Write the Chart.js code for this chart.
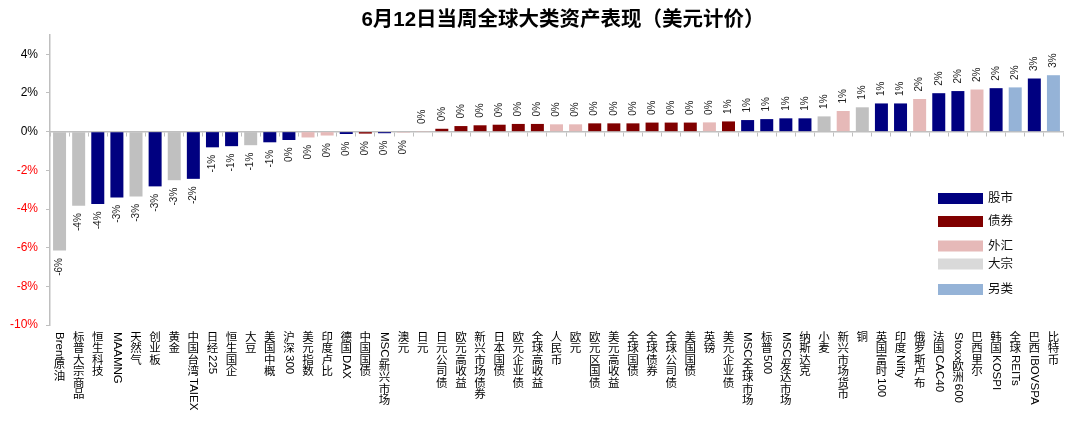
<!DOCTYPE html>
<html>
<head>
<meta charset="utf-8">
<script src="https://cdn.jsdelivr.net/npm/chart.js@4.4.1/dist/chart.umd.min.js"></script>
<style>
html,body{margin:0;padding:0;background:#fff;}
#wrap{width:1080px;height:426px;position:relative;}
</style>
</head>
<body>
<div id="wrap"><canvas id="c"></canvas></div>
<script>
const TITLE = '6月12日当周全球大类资产表现（美元计价）';
const categories = ['Brent原油','标普大宗商品','恒生科技','MAAMNG','天然气','创业板','黄金','中国台湾TAIEX','日经225','恒生国企','大豆','美国中概','沪深300','美元指数','印度卢比','德国DAX','中国国债','MSCI新兴市场','澳元','日元','日元公司债','欧元高收益','新兴市场债券','日本国债','欧元企业债','全球高收益','人民币','欧元','欧元区国债','美元高收益','全球国债','全球债券','全球公司债','美国国债','英镑','美元企业债','MSCI全球市场','标普500','MSCI发达市场','纳斯达克','小麦','新兴市场货币','铜','英国富时100','印度Nifty','俄罗斯卢布','法国CAC40','Stoxx欧洲600','巴西里尔','韩国KOSPI','全球REITs','巴西IBOVSPA','比特币'];
const values = [-6.15,-3.83,-3.74,-3.40,-3.35,-2.83,-2.51,-2.44,-0.81,-0.75,-0.70,-0.55,-0.43,-0.30,-0.20,-0.12,-0.10,-0.08,-0.05,0.01,0.15,0.29,0.33,0.36,0.40,0.40,0.38,0.38,0.43,0.43,0.43,0.47,0.47,0.47,0.48,0.53,0.60,0.65,0.69,0.69,0.79,1.07,1.26,1.46,1.46,1.69,1.99,2.10,2.18,2.25,2.29,2.75,2.92];
const groups = ['大宗','大宗','股市','股市','大宗','股市','大宗','股市','股市','股市','大宗','股市','股市','外汇','外汇','股市','债券','股市','外汇','外汇','债券','债券','债券','债券','债券','债券','外汇','外汇','债券','债券','债券','债券','债券','债券','外汇','债券','股市','股市','股市','股市','大宗','外汇','大宗','股市','股市','外汇','股市','股市','外汇','股市','另类','股市','另类'];
const legendNames = ['股市','债券','外汇','大宗','另类'];
const yTicks = [-10,-8,-6,-4,-2,0,2,4];

const barColor = {'股市':'#000080','债券':'#800000','外汇':'#E6B9B8','大宗':'#C0C0C0','另类':'#95B3D7'};
const legendColor = {'股市':'#000080','债券':'#800000','外汇':'#E6B9B8','大宗':'#D9D9D9','另类':'#95B3D7'};
const FONT = '"Liberation Sans","Noto Sans CJK SC",sans-serif';

const titlePlugin = {
  id:'titleP',
  afterDraw(chart){
    const ctx = chart.ctx;
    ctx.save();
    ctx.font = 'bold 20.5px ' + FONT;
    ctx.fillStyle = '#000';
    ctx.textAlign = 'center';
    ctx.textBaseline = 'middle';
    ctx.fillText(TITLE, 563, 20);
    ctx.restore();
  }
};

const dataLabelPlugin = {
  id:'dl',
  afterDatasetsDraw(chart){
    const ctx = chart.ctx;
    const meta = chart.getDatasetMeta(0);
    ctx.save();
    ctx.font = '10px ' + FONT;
    ctx.fillStyle = '#222';
    ctx.textBaseline = 'middle';
    meta.data.forEach((bar, i) => {
      const v = values[i];
      const txt = String(Math.round(v)) + '%';
      ctx.save();
      if (v >= 0) {
        ctx.translate(bar.x, bar.y - 7.5);
        ctx.rotate(-Math.PI/2);
        ctx.textAlign = 'left';
      } else {
        ctx.translate(bar.x, bar.y + 7.5);
        ctx.rotate(-Math.PI/2);
        ctx.textAlign = 'right';
      }
      ctx.fillText(txt, 0, 0);
      ctx.restore();
    });
    ctx.restore();
  }
};

const vLabelPlugin = {
  id:'vlab',
  afterDraw(chart){
    const ctx = chart.ctx;
    const xs = chart.scales.x;
    const fs = 11.5;
    ctx.save();
    ctx.font = fs + 'px ' + FONT;
    ctx.fillStyle = '#000';
    categories.forEach((lab, i) => {
      const x = xs.getPixelForValue(i);
      let y = 332;
      const tokens = lab.match(/[\x00-\x7F]+|[^\x00-\x7F]/g) || [];
      tokens.forEach(tk => {
        if (/^[\x00-\x7F]+$/.test(tk)) {
          const w = ctx.measureText(tk).width;
          ctx.save();
          ctx.translate(x, y);
          ctx.rotate(Math.PI/2);
          ctx.textAlign = 'left';
          ctx.textBaseline = 'middle';
          ctx.fillText(tk, 0, 0);
          ctx.restore();
          y += w;
        } else {
          ctx.textAlign = 'center';
          ctx.textBaseline = 'top';
          ctx.fillText(tk, x, y);
          y += fs;
        }
      });
    });
    ctx.restore();
  }
};

const legendPlugin = {
  id:'leg',
  afterDraw(chart){
    const ctx = chart.ctx;
    const tops = [193, 216, 240.5, 258.5, 284];
    ctx.save();
    ctx.font = '12.5px ' + FONT;
    ctx.textBaseline = 'middle';
    ctx.textAlign = 'left';
    legendNames.forEach((n, k) => {
      ctx.fillStyle = legendColor[n];
      ctx.fillRect(938, tops[k], 45, 11);
      ctx.fillStyle = '#111';
      ctx.fillText(n, 988, tops[k] + 6);
    });
    ctx.restore();
  }
};

new Chart(document.getElementById('c'), {
  type:'bar',
  data:{
    labels: categories,
    datasets:[{
      data: values,
      backgroundColor: groups.map(g => barColor[g]),
      borderWidth: 0,
      barPercentage: 0.68,
      categoryPercentage: 1.0
    }]
  },
  options:{
    responsive:true,
    maintainAspectRatio:false,
    animation:false,
    layout:{padding:{left:0,right:17,top:35,bottom:101}},
    plugins:{legend:{display:false},tooltip:{enabled:false},title:{display:false}},
    scales:{
      x:{
        position:{y:0},
        offset:true,
        ticks:{display:false},
        grid:{display:true,drawOnChartArea:false,drawTicks:true,tickLength:4,color:'#BFBFBF',offset:true},
        border:{display:true,color:'#BFBFBF',width:1.5}
      },
      y:{
        min:-10,
        max:5,
        afterBuildTicks(scale){ scale.ticks = yTicks.map(v => ({value:v})); },
        afterFit(scale){ scale.width = 50; },
        ticks:{
          padding:8,
          font:{family:FONT,size:12},
          color:(c) => (c.tick && c.tick.value < 0) ? '#FF0000' : '#000',
          callback:(v) => v + '%'
        },
        grid:{display:true,drawOnChartArea:false,drawTicks:true,tickLength:4,color:'#BFBFBF'},
        border:{display:true,color:'#BFBFBF',width:1.5}
      }
    }
  },
  plugins:[titlePlugin,dataLabelPlugin,vLabelPlugin,legendPlugin]
});
</script>
</body>
</html>
